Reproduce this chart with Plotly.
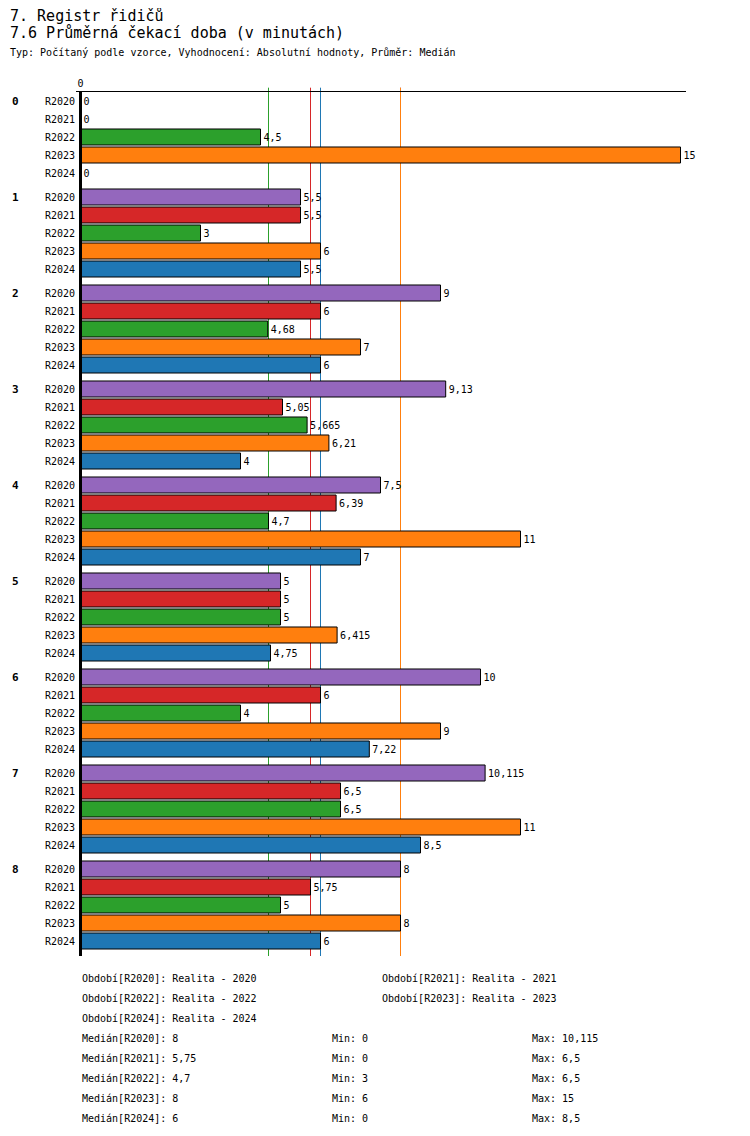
import plotly.graph_objects as go

# data
groups = ["0", "1", "2", "3", "4", "5", "6", "7", "8"]
periods = ["R2020", "R2021", "R2022", "R2023", "R2024"]
colors = ["#9467bd", "#d62728", "#2ca02c", "#ff7f0e", "#1f77b4"]

r2020 = [0, 5.5, 9, 9.13, 7.5, 5, 10, 10.115, 8]
r2021 = [0, 5.5, 6, 5.05, 6.39, 5, 6, 6.5, 5.75]
r2022 = [4.5, 3, 4.68, 5.665, 4.7, 5, 4, 6.5, 5]
r2023 = [15, 6, 7, 6.21, 11, 6.415, 9, 11, 8]
r2024 = [0, 5.5, 6, 4, 7, 4.75, 7.22, 8.5, 6]
series = [r2020, r2021, r2022, r2023, r2024]

medians = [8, 5.75, 4.7, 8, 6]
mins = [0, 0, 3, 6, 0]
maxs = [10.115, 6.5, 6.5, 15, 8.5]
period_names = ["Realita - 2020", "Realita - 2021", "Realita - 2022",
                "Realita - 2023", "Realita - 2024"]

FONT = "DejaVu Sans Mono"
GAP = 1 / 3  # extra space between groups, in rows


def fmt(v):
    return ("%g" % v).replace(".", ",")


def ypos(g, k):
    return g * (5 + GAP) + k


fig = go.Figure()

for k, (name, col, vals) in enumerate(zip(periods, colors, series)):
    fig.add_trace(go.Bar(
        x=vals,
        y=[ypos(g, k) for g in range(len(groups))],
        orientation="h",
        name=name,
        width=0.89,
        marker=dict(color=col, line=dict(color="black", width=1)),
        text=[fmt(v) for v in vals],
        textposition="outside",
        textfont=dict(family=FONT, size=10, color="black"),
        cliponaxis=False,
        showlegend=False,
    ))

# median lines (behind the bars)
for col, m in zip(colors, medians):
    fig.add_shape(type="line", xref="x", yref="paper", x0=m, x1=m, y0=0, y1=1.005,
                  line=dict(color=col, width=1), layer="below")

# thick zero line
fig.add_shape(type="line", xref="x", yref="paper", x0=0, x1=0, y0=0, y1=1,
              line=dict(color="black", width=3), layer="above")

tickvals = [ypos(g, k) for g in range(len(groups)) for k in range(5)]
ticktext = [p for g in groups for p in periods]


# page pixel -> paper coords (plot area spans 76..686 x 92..956 on the page)
def px_x(px):
    return (px - 76) / 610


def px_y(py):
    return (956 - py) / 864


ann = []
for g, lab in enumerate(groups):
    ann.append(dict(x=px_x(10), y=ypos(g, 0), xref="paper", yref="y", text="<b>" + lab + "</b>",
                    showarrow=False, xanchor="left", yanchor="middle",
                    font=dict(family=FONT, size=11, color="black")))

ann.append(dict(x=px_x(8), y=px_y(16), xref="paper", yref="paper", text="7. Registr řidičů",
                showarrow=False, xanchor="left", yanchor="middle",
                font=dict(family=FONT, size=15, color="black")))
ann.append(dict(x=px_x(8), y=px_y(33), xref="paper", yref="paper",
                text="7.6 Průměrná čekací doba (v minutách)",
                showarrow=False, xanchor="left", yanchor="middle",
                font=dict(family=FONT, size=15, color="black")))
ann.append(dict(x=px_x(8), y=px_y(52), xref="paper", yref="paper",
                text="Typ: Počítaný podle vzorce, Vyhodnocení: Absolutní hodnoty, Průměr: Medián",
                showarrow=False, xanchor="left", yanchor="middle",
                font=dict(family=FONT, size=10, color="black")))

# footer: periods
foot_pos = [(80, 978), (380, 978), (80, 998), (380, 998), (80, 1018)]
for (fx, fy), p, n in zip(foot_pos, periods, period_names):
    ann.append(dict(x=px_x(fx), y=px_y(fy), xref="paper", yref="paper",
                    text="Období[%s]: %s" % (p, n), showarrow=False,
                    xanchor="left", yanchor="middle",
                    font=dict(family=FONT, size=10, color="black")))

# footer: median / min / max
for k, p in enumerate(periods):
    fy = 1038 + 20 * k
    for fx, txt in [(80, "Medián[%s]: %s" % (p, fmt(medians[k]))),
                    (330, "Min: %s" % fmt(mins[k])),
                    (530, "Max: %s" % fmt(maxs[k]))]:
        ann.append(dict(x=px_x(fx), y=px_y(fy), xref="paper", yref="paper",
                        text=txt, showarrow=False, xanchor="left", yanchor="middle",
                        font=dict(family=FONT, size=10, color="black")))

# the page adds an 8px body margin, so margins are 8px smaller than the page offsets
fig.update_layout(
    width=750, height=1136,
    margin=dict(l=68, r=72, t=84, b=188, autoexpand=False),
    plot_bgcolor="white", paper_bgcolor="white",
    barmode="overlay",
    font=dict(family=FONT, size=10, color="black"),
    annotations=ann,
    xaxis=dict(range=[-0.1125, 15.1375], side="top", tickvals=[0], ticktext=["0"],
               showgrid=False, zeroline=False, showline=True, linecolor="black",
               linewidth=1, ticks="", tickfont=dict(family=FONT, size=10)),
    yaxis=dict(range=[47.5, -0.5], tickvals=tickvals, ticktext=ticktext,
               showgrid=False, zeroline=False, showline=False, ticks="",
               tickfont=dict(family=FONT, size=10)),
)

fig.write_html("out.html")
